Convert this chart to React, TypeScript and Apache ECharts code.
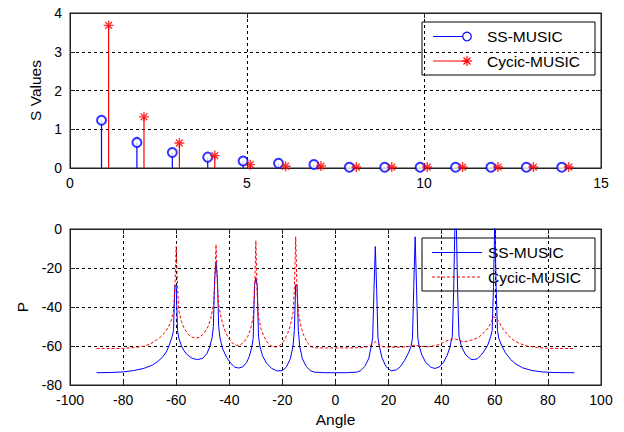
import React, { useEffect, useRef } from "react";
import * as echarts from "echarts";

// ---------- Top subplot: singular values (stem plot) ----------
const ssPos = [0.89, 1.89, 2.89, 3.89, 4.89, 5.89, 6.89, 7.89, 8.89, 9.89, 10.89, 11.89, 12.89, 13.89];
const ssVals = [1.23, 0.66, 0.4, 0.28, 0.18, 0.12, 0.09, 0.02, 0.02, 0.02, 0.02, 0.02, 0.02, 0.02];
const cyPos = [1.09, 2.09, 3.09, 4.09, 5.09, 6.09, 7.09, 8.09, 9.09, 10.09, 11.09, 12.09, 13.09, 14.09];
const cyVals = [3.68, 1.32, 0.645, 0.32, 0.086, 0.045, 0.05, 0.025, 0.025, 0.025, 0.025, 0.025, 0.025, 0.025];

const topXTicks = { min: 0, max: 15, interval: 5 };
const topYTicks = { min: 0, max: 4, interval: 1 };

// ---------- Bottom subplot: spatial spectrum ----------
const ssSpectrum: [number, number][] = [
  [-90, -73.7], [-85, -73.6], [-80, -73.3], [-76, -72.6], [-72, -71.4], [-69, -69.8], [-67, -68], [-65, -65.5],
  [-63.5, -62.5], [-62.5, -59], [-61.5, -55], [-61, -52], [-60.5, -29], [-60, -29], [-59.5, -52], [-59, -56],
  [-58, -60], [-57, -62.5], [-56, -64.3], [-54, -66.3], [-52, -67], [-50, -66.3], [-48.5, -64], [-47.5, -61],
  [-46.5, -56], [-46, -50], [-45.5, -25], [-45, -17], [-44.5, -25], [-44, -50], [-43.5, -56], [-42.5, -61.5],
  [-41, -65.8], [-39.5, -68.8], [-38, -70.8], [-36.5, -71.3], [-35, -70.8], [-33.5, -68.5], [-32.5, -65.5],
  [-31.5, -60.5], [-31, -56], [-30.5, -29], [-30, -25], [-29.5, -29], [-29, -55], [-28.5, -60], [-27.5, -65],
  [-26, -68.8], [-24, -71.5], [-22, -72.8], [-20, -72.6], [-18.5, -70.8], [-17, -66.5], [-16, -60], [-15.5, -52],
  [-15, -28.6], [-14.5, -28.6], [-14, -52], [-13.5, -60], [-12.5, -66.5], [-11, -70.5], [-9.5, -72.6], [-8, -73.4],
  [-4, -73.7], [0, -73.7], [4, -73.7], [8, -73.4], [9.5, -72.6], [11, -70.5], [12.5, -66.5], [13.5, -60],
  [14, -55.8], [14.5, -31], [15, -9], [15.5, -31], [16, -55.8], [16.5, -60], [17.5, -66], [19, -70.5], [21, -72.8],
  [23, -72.2], [24.5, -70.5], [26, -67.5], [27.5, -63.5], [28.5, -60], [29, -55.8], [29.5, -28.6], [30, -4],
  [30.5, -28.6], [31, -55.8], [31.5, -60], [32.5, -64.5], [34, -68.5], [36, -71], [37.5, -71.5], [39, -70.8],
  [40.5, -68.8], [42, -65], [43, -61], [44, -55], [44.5, -32], [45, 4], [45.5, 4], [46, -32], [46.5, -55],
  [47.5, -60.5], [49, -64.5], [51, -66.8], [52, -67], [53.5, -66.5], [55, -64.5], [56.5, -61.5], [57.5, -59],
  [58.5, -55], [59, -52], [59.5, -30], [60, 5], [60.5, -30], [61, -52], [61.5, -56], [62.5, -59.5], [64, -63.5],
  [66, -67], [68, -69.3], [70.5, -71.2], [74, -72.6], [78, -73.3], [82, -73.6], [90, -73.7],
];

const cySpectrum: [number, number][] = [
  [-90, -61.3], [-85, -61.3], [-80, -61.2], [-76, -60.8], [-72, -60.1], [-69.5, -58.8], [-67.5, -57], [-66, -55.5],
  [-64.5, -53.5], [-63, -50.5], [-62, -47.5], [-61, -42], [-60.5, -30], [-60, -9], [-59.5, -30], [-59, -42],
  [-58, -47.5], [-57, -51], [-55.5, -54], [-54, -55.5], [-52.5, -56], [-51, -55.3], [-49.5, -53.5], [-48, -50],
  [-47, -46], [-46, -39], [-45.5, -28], [-45, -8], [-44.5, -28], [-44, -39], [-43, -46], [-42, -51], [-40.5, -55.5],
  [-39, -58.3], [-37.5, -59.7], [-36, -59.5], [-34.5, -58], [-33, -55], [-32, -51.5], [-31, -45], [-30.5, -33],
  [-30, -6], [-29.5, -33], [-29, -45], [-28, -51.5], [-27, -55], [-25.5, -58.5], [-24, -60.2], [-22.5, -60.6],
  [-21, -59.8], [-19.5, -57.5], [-18, -53.5], [-17, -49.5], [-16, -43], [-15.5, -31], [-15, -4], [-14.5, -31],
  [-14, -43], [-13, -50], [-12, -54.5], [-10.5, -58.5], [-9, -60.5], [-7, -61], [0, -61], [5, -61], [10, -60.8],
  [12.5, -60.2], [14, -59], [15, -57.8], [16, -59], [17.5, -60.3], [20, -60.6], [25, -60.6], [28, -60.2],
  [30, -59.5], [32, -60.2], [35, -60.4], [38, -59.7], [40, -58.6], [42, -57.3], [44, -56.5], [45, -56.3],
  [46.5, -57], [48, -57.8], [50, -57.5], [52, -56.6], [54, -55.5], [56, -53], [57.5, -50.8], [58.5, -48.3],
  [59.5, -45], [60.5, -45.5], [61.5, -47.5], [63, -51], [65, -54.5], [67, -57], [69, -58.5], [72, -60],
  [76, -60.8], [80, -61.2], [85, -61.3], [90, -61.3],
];

const botXTicks = { min: -100, max: 100, interval: 20 };
const botYTicks = { min: -80, max: 0, interval: 20 };

const seriesNames = ["SS-MUSIC", "Cycic-MUSIC"];
const BLUE = "#0000ff";
const RED = "#ff0000";
const FONT = "Liberation Sans, Arial, sans-serif";

const ASTERISK = "path://M5,0L5,10M0,5L10,5M1.6,1.6L8.4,8.4M1.6,8.4L8.4,1.6";

function stemSeries(pos: number[], vals: number[], color: string) {
  return {
    type: "custom",
    xAxisIndex: 0,
    yAxisIndex: 0,
    z: 2,
    encode: { x: 0, y: 1 },
    data: pos.map((x, i) => [x, vals[i]]),
    renderItem: (_p: any, api: any) => {
      const x = api.value(0);
      const y = api.value(1);
      const a = api.coord([x, 0]);
      const b = api.coord([x, y]);
      return {
        type: "line",
        shape: { x1: a[0], y1: a[1], x2: b[0], y2: b[1] },
        style: { stroke: color, lineWidth: 1.2 },
      };
    },
  };
}

const gridLine = { show: true, lineStyle: { color: "#000", type: [3, 3] as any, width: 1 } };
const axisLabel = { color: "#000", fontSize: 14, fontFamily: FONT, margin: 8 };
const axisLineStyle = { show: true, onZero: false, lineStyle: { color: "#222", width: 1 } };
const tick = { show: true, inside: true, length: 5, lineStyle: { color: "#222" } };

function primaryX(grid: number, t: any, extra: any = {}) {
  return {
    type: "value", gridIndex: grid, position: "bottom", ...t,
    axisLine: axisLineStyle, axisTick: tick, axisLabel, splitLine: gridLine, ...extra,
  };
}
function mirrorX(grid: number, t: any) {
  return {
    type: "value", gridIndex: grid, position: "top", ...t,
    axisLine: axisLineStyle, axisTick: tick, axisLabel: { show: false }, splitLine: { show: false },
  };
}
function primaryY(grid: number, t: any, extra: any = {}) {
  return {
    type: "value", gridIndex: grid, position: "left", ...t,
    axisLine: axisLineStyle, axisTick: tick, axisLabel, splitLine: gridLine, ...extra,
  };
}
function mirrorY(grid: number, t: any) {
  return {
    type: "value", gridIndex: grid, position: "right", ...t,
    axisLine: axisLineStyle, axisTick: tick, axisLabel: { show: false }, splitLine: { show: false },
  };
}

const nameStyle = { color: "#000", fontSize: 15.5, fontFamily: FONT };

function legendBox(top: number, kind: "stem" | "line") {
  const left = 422;
  const w = 173;
  const h = 53;
  const r1 = top + 14.5;
  const r2 = top + 39;
  const els: any[] = [
    { type: "rect", shape: { x: left, y: top, width: w, height: h }, style: { fill: "#fff", stroke: "#000", lineWidth: 1 } },
  ];
  if (kind === "stem") {
    els.push({ type: "line", shape: { x1: 433, y1: r1, x2: 467, y2: r1 }, style: { stroke: BLUE, lineWidth: 1.2 } });
    els.push({ type: "circle", shape: { cx: 467, cy: r1, r: 4.3 }, style: { fill: "#fff", stroke: BLUE, lineWidth: 1.2 } });
    els.push({ type: "line", shape: { x1: 433, y1: r2, x2: 467, y2: r2 }, style: { stroke: RED, lineWidth: 1.2 } });
    const s = 5;
    const d = 3.5;
    els.push({ type: "line", shape: { x1: 467 - s, y1: r2, x2: 467 + s, y2: r2 }, style: { stroke: RED, lineWidth: 1.2 } });
    els.push({ type: "line", shape: { x1: 467, y1: r2 - s, x2: 467, y2: r2 + s }, style: { stroke: RED, lineWidth: 1.2 } });
    els.push({ type: "line", shape: { x1: 467 - d, y1: r2 - d, x2: 467 + d, y2: r2 + d }, style: { stroke: RED, lineWidth: 1.2 } });
    els.push({ type: "line", shape: { x1: 467 - d, y1: r2 + d, x2: 467 + d, y2: r2 - d }, style: { stroke: RED, lineWidth: 1.2 } });
  } else {
    els.push({ type: "line", shape: { x1: 432, y1: r1, x2: 482, y2: r1 }, style: { stroke: BLUE, lineWidth: 1 } });
    els.push({ type: "line", shape: { x1: 432, y1: r2, x2: 482, y2: r2 }, style: { stroke: RED, lineWidth: 1, lineDash: [3, 2] } });
  }
  const tx = kind === "stem" ? 487 : 488;
  els.push({ type: "text", x: tx, y: r1, style: { text: seriesNames[0], fill: "#000", font: `15.5px ${FONT}`, verticalAlign: "middle", align: "left" } });
  els.push({ type: "text", x: tx, y: r2, style: { text: seriesNames[1], fill: "#000", font: `15.5px ${FONT}`, verticalAlign: "middle", align: "left" } });
  return { type: "group", z: 100, children: els };
}

export default function App() {
  const ref = useRef<HTMLDivElement>(null);
  useEffect(() => {
    if (!ref.current) return;
    const chart = echarts.init(ref.current, null, { renderer: "svg" });
    chart.setOption({
      animation: false,
      backgroundColor: "#fff",
      textStyle: { fontFamily: FONT },
      grid: [
        { left: 70, top: 13, width: 531, height: 155, show: true, borderColor: "#222", borderWidth: 1, backgroundColor: "#fff" },
        { left: 70, top: 229, width: 531, height: 156, show: true, borderColor: "#222", borderWidth: 1, backgroundColor: "#fff" },
      ],
      xAxis: [
        primaryX(0, topXTicks),
        primaryX(1, botXTicks, { name: "Angle", nameLocation: "middle", nameGap: 26, nameTextStyle: nameStyle }),
        mirrorX(0, topXTicks),
        mirrorX(1, botXTicks),
      ],
      yAxis: [
        primaryY(0, topYTicks, { name: "S Values", nameLocation: "middle", nameGap: 24, nameTextStyle: nameStyle }),
        primaryY(1, botYTicks, { name: "P", nameLocation: "middle", nameGap: 23, nameTextStyle: nameStyle }),
        mirrorY(0, topYTicks),
        mirrorY(1, botYTicks),
      ],
      series: [
        stemSeries(ssPos, ssVals, BLUE),
        {
          type: "scatter", name: seriesNames[0], xAxisIndex: 0, yAxisIndex: 0, z: 3,
          symbol: "emptyCircle", symbolSize: 9,
          itemStyle: { color: BLUE, borderColor: BLUE, borderWidth: 1.2 },
          data: ssPos.map((x, i) => [x, ssVals[i]]),
        },
        stemSeries(cyPos, cyVals, RED),
        {
          type: "scatter", name: seriesNames[1], xAxisIndex: 0, yAxisIndex: 0, z: 4,
          symbol: ASTERISK, symbolSize: 10,
          itemStyle: { color: RED, borderColor: RED, borderWidth: 1.4 },
          data: cyPos.map((x, i) => [x, cyVals[i]]),
        },
        {
          type: "line", name: seriesNames[0], xAxisIndex: 1, yAxisIndex: 1, z: 3,
          showSymbol: false, symbol: "none", clip: true,
          lineStyle: { color: BLUE, width: 1 },
          data: ssSpectrum,
        },
        {
          type: "line", name: seriesNames[1], xAxisIndex: 1, yAxisIndex: 1, z: 4,
          showSymbol: false, symbol: "none", clip: true,
          lineStyle: { color: RED, width: 1, type: [3, 2] as any },
          data: cySpectrum,
        },
      ],
      graphic: [legendBox(22, "stem"), legendBox(238, "line")],
    });
    return () => chart.dispose();
  }, []);
  return (
    <div
      ref={ref}
      style={{ position: "absolute", left: 0, top: 0, width: 624, height: 432, background: "#fff" }}
    />
  );
}
